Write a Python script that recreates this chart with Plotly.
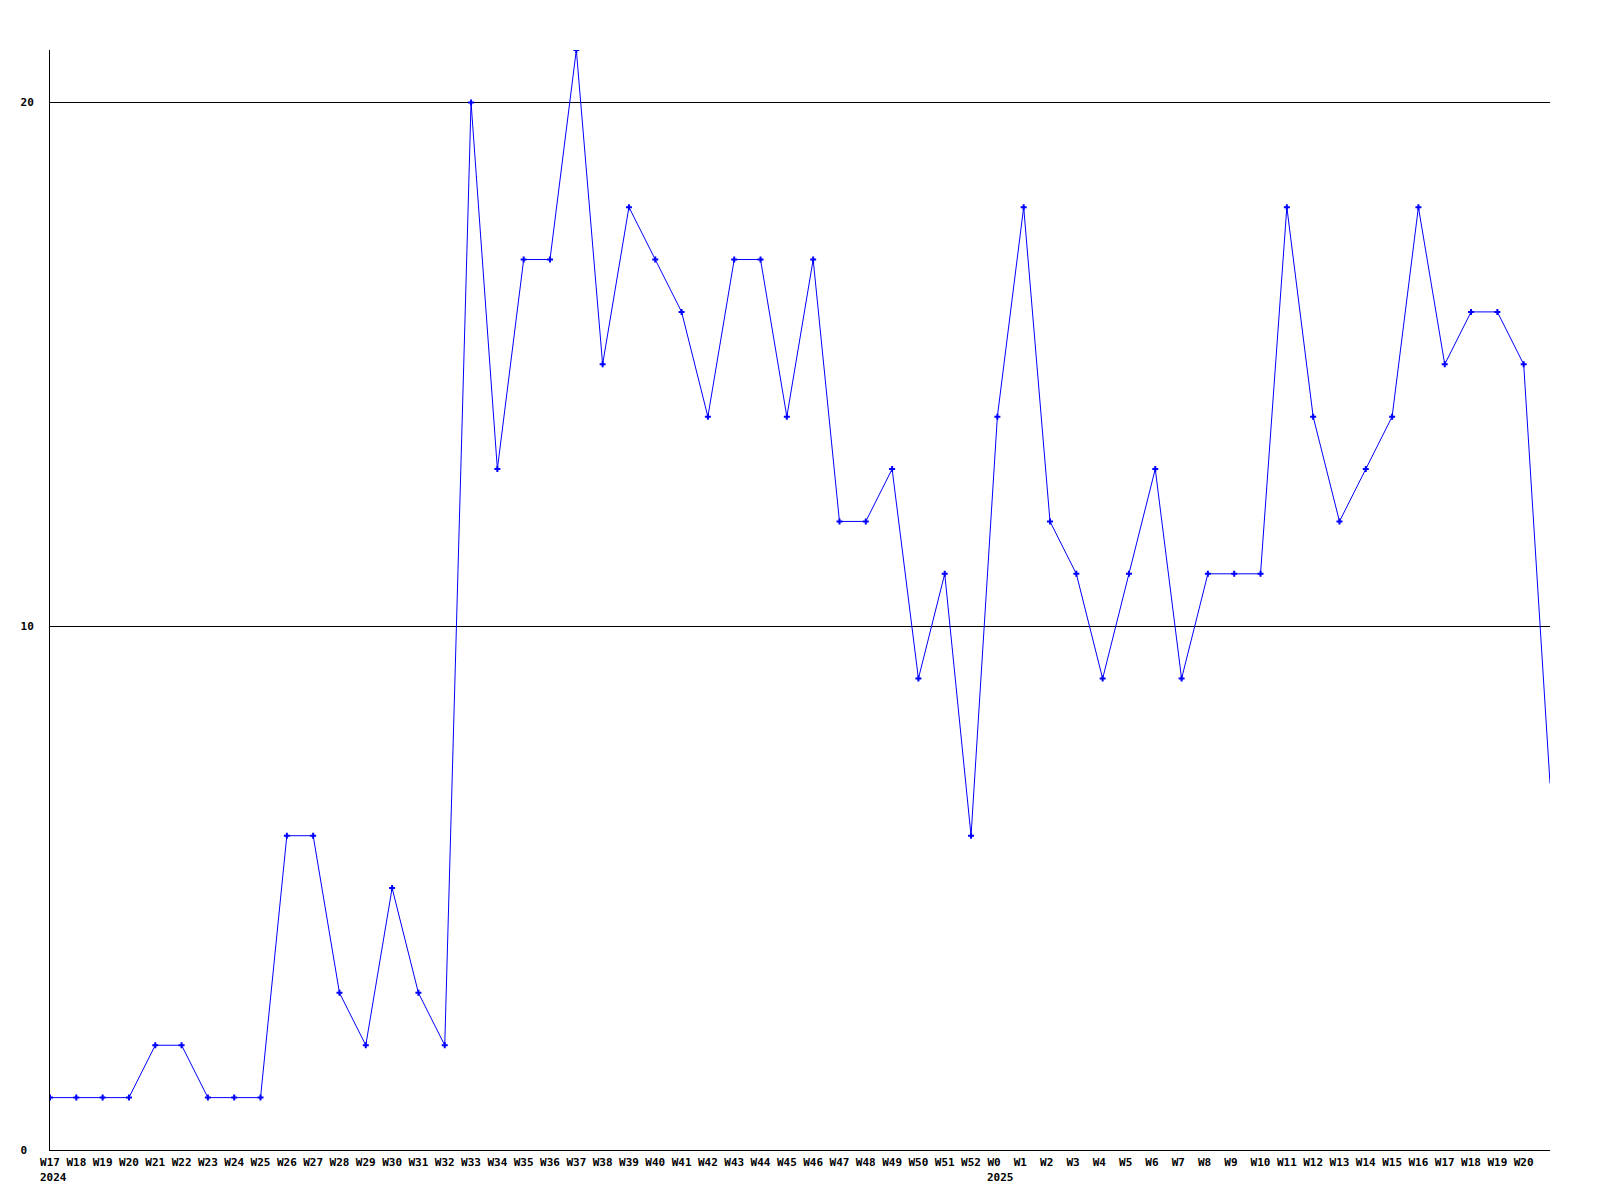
import plotly.graph_objects as go

weeks = ["W17", "W18", "W19", "W20", "W21", "W22", "W23", "W24", "W25", "W26",
         "W27", "W28", "W29", "W30", "W31", "W32", "W33", "W34", "W35", "W36",
         "W37", "W38", "W39", "W40", "W41", "W42", "W43", "W44", "W45", "W46",
         "W47", "W48", "W49", "W50", "W51", "W52", "W0", "W1", "W2", "W3",
         "W4", "W5", "W6", "W7", "W8", "W9", "W10", "W11", "W12", "W13",
         "W14", "W15", "W16", "W17", "W18", "W19", "W20", "W21"]
values = [1, 1, 1, 1, 2, 2, 1, 1, 1, 6,
          6, 3, 2, 5, 3, 2, 20, 13, 17, 17,
          21, 15, 18, 17, 16, 14, 17, 17, 14, 17,
          12, 12, 13, 9, 11, 6, 14, 18, 12, 11,
          9, 11, 13, 9, 11, 11, 11, 18, 14, 12,
          13, 14, 18, 15, 16, 16, 15, 7]
labelled = 57  # last point carries no tick label
year_labels = {0: "2024", 36: "2025"}
y_ticks = [0, 10, 20]

FONT = "DejaVu Sans Mono"
BLUE = "#0000ff"
x = list(range(len(values)))

fig = go.Figure()
fig.add_trace(go.Scatter(
    x=x, y=values, mode="lines",
    line=dict(color=BLUE, width=1),
    hoverinfo="skip", showlegend=False,
))
fig.add_trace(go.Scatter(
    x=x[:labelled], y=values[:labelled], mode="markers",
    marker=dict(symbol="cross", size=5, color=BLUE, line=dict(width=0)),
    hoverinfo="skip", showlegend=False,
))

for idx, yr in year_labels.items():
    fig.add_annotation(
        x=idx, y=0, xref="x", yref="paper", text=yr, showarrow=False,
        xanchor="left", yanchor="top",
        xshift=-12, yshift=-19,
        font=dict(family=FONT, size=11, color="black", weight="bold"),
    )

fig.update_layout(
    width=1600, height=1200,
    margin=dict(l=42, r=58, t=42, b=58),
    paper_bgcolor="white", plot_bgcolor="white",
    font=dict(family=FONT, size=11, color="black"),
)
fig.update_xaxes(
    range=[0, len(values) - 1],
    tickmode="array", tickvals=x[:labelled],
    ticktext=[w.ljust(3, "\u00a0") for w in weeks[:labelled]],
    tickfont=dict(family=FONT, size=11, color="black", weight="bold"),
    showgrid=False, zeroline=False,
    showline=True, linecolor="black", linewidth=1,
    ticks="", ticklabelstandoff=2,
)
fig.update_yaxes(
    range=[0, 21],
    tickmode="array", tickvals=y_ticks,
    ticktext=[str(v).ljust(2, "\u00a0") for v in y_ticks],
    tickfont=dict(family=FONT, size=11, color="black", weight="bold"),
    showgrid=True, gridcolor="black", gridwidth=1,
    zeroline=False,
    showline=True, linecolor="black", linewidth=1,
    ticks="", ticklabelstandoff=13,
)

fig.write_html("out.html")
